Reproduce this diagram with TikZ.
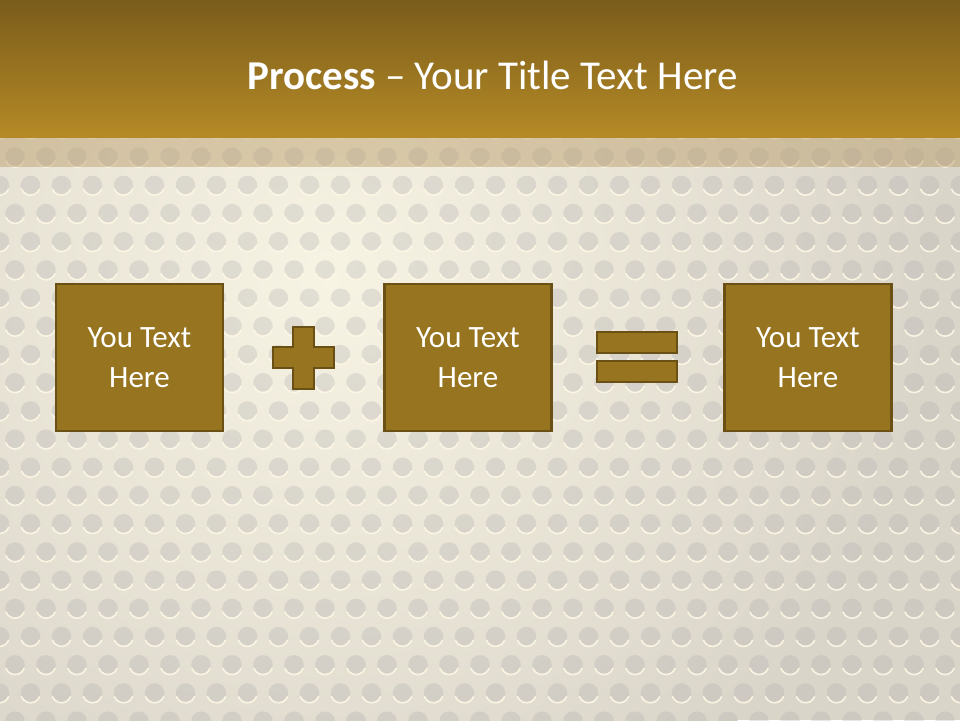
\documentclass[tikz,border=0pt]{standalone}
\usepackage{fontspec}
\setmainfont{Carlito}
\definecolor{bgc}{HTML}{DAD5C9}
\definecolor{glowc}{HTML}{F8F4E4}
\definecolor{hdtop}{HTML}{7A5C1B}
\definecolor{hdbot}{HTML}{B58A26}
\definecolor{bandc}{HTML}{B89A66}
\definecolor{dotc}{HTML}{B0AEB0}
\definecolor{dothlc}{HTML}{FFF8E6}
\definecolor{boxfill}{HTML}{97741F}
\definecolor{boxline}{HTML}{6A5015}
\begin{document}
\begin{tikzpicture}[x=1pt,y=-1pt,
  stepbox/.style={draw=boxline, line width=2.8pt, fill=boxfill, minimum width=167pt, minimum height=147pt, text=white, align=center, font=\fontsize{31}{40}\selectfont, inner sep=0pt},
  signshape/.style={draw=boxline, line width=2.8pt, fill=boxfill, line join=miter},
  dotfill/.style={fill=dotc, fill opacity=0.3},
  dothl/.style={draw=dothlc, line width=1.6pt, opacity=0.9}]
\useasboundingbox (0,0) rectangle (960,720);
% background
\fill[bgc] (0,0) rectangle (960,720);
\shade[inner color=glowc, outer color=bgc] (330,280) ellipse (600 and 600);
% perforated dots
\foreach \r in {0,...,21} {
  \pgfmathsetmacro\yy{129+28.2*\r}
  \pgfmathsetmacro\xo{mod(\r,2)==0 ? 30.5 : 15}
  \foreach \c in {-1,...,31} {
    \fill[dotfill] (\xo+31*\c,\yy) circle (9.8);
    \draw[dothl] (\xo+31*\c,\yy) ++(20:9.8) arc (20:160:9.8);
  }
}
% header band
\fill[bandc, opacity=0.45] (0,137) rectangle (960,167);
\shade[top color=hdtop, bottom color=hdbot] (0,0) rectangle (960,137);
\node[text=white, font=\fontsize{41}{49}\selectfont] (title) at (492.5,75) {\textbf{Process} – Your Title Text Here};
% boxes
\node[stepbox] (b1) at (139.5,357.5) {You Text\\Here};
\node[stepbox] (b2) at (468,357.5) {You Text\\Here};
\node[stepbox] (b3) at (808,357.5) {You Text\\Here};
% plus sign
\draw[signshape] (293,327) -- (314,327) -- (314,347) -- (334,347) -- (334,368) -- (314,368) -- (314,389) -- (293,389) -- (293,368) -- (273,368) -- (273,347) -- (293,347) -- cycle;
% equals sign
\draw[signshape] (597,332) rectangle (677,353);
\draw[signshape] (597,361) rectangle (677,382);
\end{tikzpicture}
\end{document}
